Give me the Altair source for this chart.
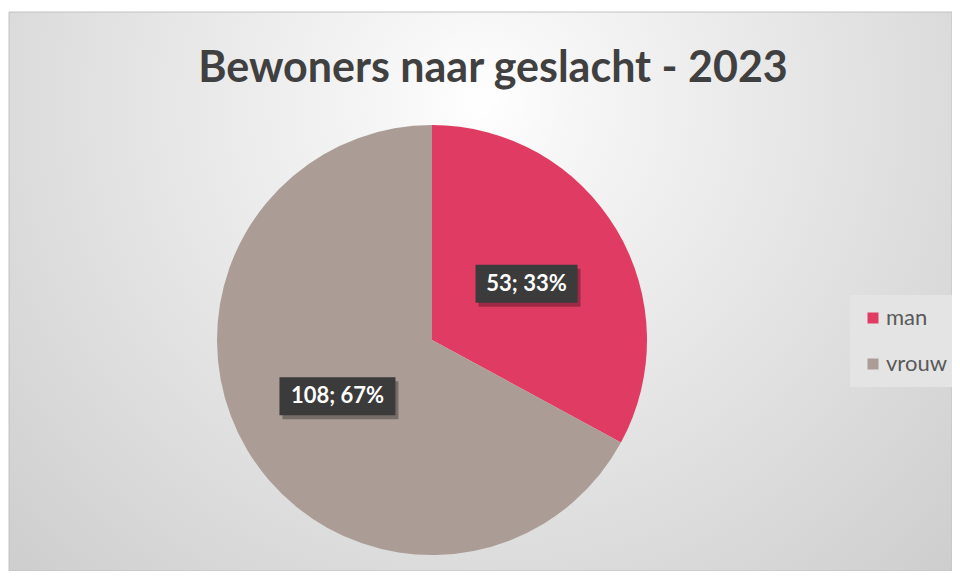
import altair as alt
import pandas as pd

CATEGORIES = ["man", "vrouw"]
VALUES = [53, 108]
LABELS = ["53; 33%", "108; 67%"]
COLORS = ["#E03C63", "#AB9D96"]
TITLE = "Bewoners naar geslacht - 2023"

W, H = 944, 563
CX, CY, R, LR = 424, 332, 215, 110
BOX_H = 38

df = pd.DataFrame({"cat": CATEGORIES, "value": VALUES, "label": LABELS})

gradient = {
    "gradient": "radial",
    "x1": 0.5, "y1": 0.3, "r1": 0,
    "x2": 0.5, "y2": 0.3, "r2": 0.85,
    "stops": [
        {"offset": 0, "color": "#ffffff"},
        {"offset": 0.12, "color": "#f6f6f6"},
        {"offset": 1, "color": "#c4c4c4"},
    ],
}

bg = alt.Chart(pd.DataFrame({"k": [0]})).mark_rect(
    fill=gradient, stroke="#c2c2c2", strokeWidth=1
).encode(x=alt.value(1), x2=alt.value(W), y=alt.value(4), y2=alt.value(H))

title = alt.Chart(pd.DataFrame({"t": [TITLE]})).mark_text(
    font="Lato", fontWeight="bold", fontSize=43, color="#404040",
    baseline="alphabetic", align="center"
).encode(x=alt.value(485), y=alt.value(74), text="t:N")

pie = alt.Chart(df).mark_arc(radius=R).encode(
    theta=alt.Theta("value:Q", stack=True),
    color=alt.Color(
        "cat:N",
        scale=alt.Scale(domain=CATEGORIES, range=COLORS),
        legend=alt.Legend(
            title=None, orient="none", legendX=842, legendY=287,
            symbolType="square", symbolSize=121, symbolStrokeWidth=0,
            labelFont="Lato", labelFontSize=22, labelColor="#595959",
            fillColor="#e4e4e4", padding=12, rowPadding=24, labelOffset=2,
        ),
    ),
    order=alt.Order("cat:N"),
    x=alt.value(CX), y=alt.value(CY),
)

pos = alt.Chart(df).transform_joinaggregate(
    total="sum(value)"
).transform_window(
    cum="sum(value)", sort=[alt.SortField("cat")], frame=[None, 0]
).transform_calculate(
    mid="(datum.cum - datum.value/2)/datum.total*2*PI",
).transform_calculate(
    bx=f"{CX} + {LR}*sin(datum.mid)",
    by=f"{CY} - {LR}*cos(datum.mid)",
    bw="14*length(datum.label)+4",
).transform_calculate(
    x1="datum.bx - datum.bw/2",
    x2="datum.bx + datum.bw/2",
    y1=f"datum.by - {BOX_H}/2",
    y2=f"datum.by + {BOX_H}/2",
).transform_calculate(
    sx1="datum.x1 + 3", sx2="datum.x2 + 3",
    sy1="datum.y1 + 4", sy2="datum.y2 + 4",
)

shadow = pos.mark_rect(fill="#000000", opacity=0.3).encode(
    x=alt.X("sx1:Q", scale=None, axis=None), x2="sx2:Q",
    y=alt.Y("sy1:Q", scale=None, axis=None), y2="sy2:Q",
)
box = pos.mark_rect(fill="#3b3b3b").encode(
    x=alt.X("x1:Q", scale=None, axis=None), x2="x2:Q",
    y=alt.Y("y1:Q", scale=None, axis=None), y2="y2:Q",
)
text = pos.mark_text(
    font="Lato", fontWeight="bold", fontSize=22, color="#ffffff",
    baseline="middle", align="center"
).encode(
    x=alt.X("bx:Q", scale=None, axis=None),
    y=alt.Y("by:Q", scale=None, axis=None),
    text="label:N",
)

chart = alt.layer(bg, title, pie, shadow, box, text).properties(
    width=W, height=H, autosize=alt.AutoSizeParams(type="none"), padding=0,
    background="white",
).configure_view(stroke=None)

chart.save("out.html", embed_options={"renderer": "svg", "actions": False})
